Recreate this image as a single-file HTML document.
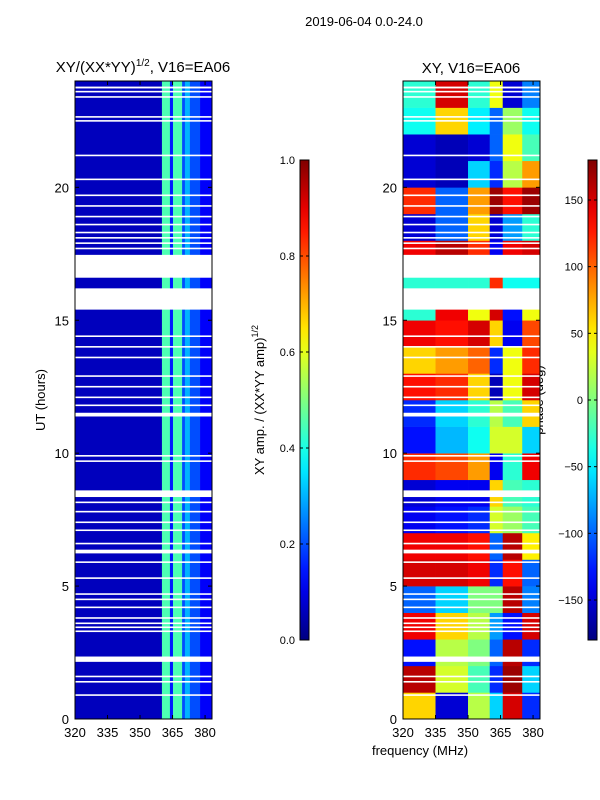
<!DOCTYPE html>
<html><head><meta charset="utf-8">
<style>
body{margin:0;background:#fff;}
svg{display:block;font-family:"Liberation Sans",sans-serif;}
</style></head>
<body>
<svg id="fig" width="600" height="800" viewBox="0 0 600 800">
<text x="364" y="26" font-size="13" text-anchor="middle">2019-06-04 0.0-24.0</text>
<text x="143" y="72" font-size="15" text-anchor="middle">XY/(XX*YY)<tspan font-size="10" dy="-6">1/2</tspan><tspan dy="6">, V16=EA06</tspan></text>
<text x="471" y="73" font-size="15" text-anchor="middle">XY, V16=EA06</text>
<text x="45" y="400" font-size="13" text-anchor="middle" transform="rotate(-90 45 400)">UT (hours)</text>
<text x="420" y="755" font-size="13" text-anchor="middle">frequency (MHz)</text>
<text x="264" y="400" font-size="13" text-anchor="middle" transform="rotate(-90 264 400)">XY amp. / (XX*YY amp)<tspan font-size="9" dy="-6">1/2</tspan></text>
<text x="543" y="400" font-size="13" text-anchor="middle" transform="rotate(-90 543 400)">phase (deg)</text>
<g id="layers"></g>
</svg>
<script>
// ---- data ----
const freqEdges = [320, 335, 350, 360, 366, 375, 383.2];
const ampEdges = [320, 360.1, 363.8, 365.2, 369.4, 370.7, 373, 377.7, 383.2];
const ampProfile = [0.06, 0.45, 0.15, 0.45, 0.2, 0.3, 0.2, 0.12];
const phaseRows = [
 [60,-150,20,-60,150,-120],
 [160,30,-20,-120,170,-60],
 [-130,20,0,-100,160,-120],
 [140,60,20,-80,-130,150],
 [-100,-60,0,0,160,-90],
 [150,150,140,-120,130,-100],
 [140,140,130,-100,160,50],
 [-140,-130,-120,30,10,-20],
 [-150,-140,-140,60,-20,-30],
 [120,110,80,-140,-30,140],
 [-130,-70,-40,30,30,-60],
 [-120,-60,-30,20,-20,60],
 [130,120,60,-160,40,150],
 [60,80,100,-120,40,120],
 [140,130,150,60,-140,110],
 [-30,140,40,150,-130,40],
 [-30,-30,-30,120,-40,-40],
 [140,160,120,-140,140,150],
 [-150,-100,60,-150,-80,-30],
 [120,-100,80,170,130,170],
 [-150,-160,-60,-120,20,80],
 [-150,-160,-150,-100,40,-20],
 [-40,60,-50,-100,10,-40],
 [-30,150,-30,40,-150,-90]
];
const gaps = [[23.72,23.79],[23.57,23.63],[23.37,23.43],[22.62,22.68],[22.47,22.53],[21.17,21.23],[20.27,20.33],[19.67,19.73],[19.27,19.33],[18.87,18.93],[18.57,18.63],[18.27,18.33],[18.07,18.13],[17.87,17.93],[17.67,17.73],[16.6,17.46],[15.4,16.2],[14.37,14.43],[13.97,14.03],[13.57,13.63],[12.87,12.93],[12.47,12.53],[12.07,12.13],[11.77,11.83],[11.38,11.52],[9.87,9.93],[9.67,9.73],[8.35,8.6],[8.12,8.18],[7.77,7.83],[7.37,7.43],[7.07,7.13],[6.57,6.63],[6.23,6.37],[5.87,5.93],[5.27,5.33],[4.67,4.73],[4.47,4.53],[4.17,4.23],[3.77,3.83],[3.57,3.63],[3.42,3.48],[3.27,3.33],[2.15,2.35],[1.57,1.63],[1.37,1.43],[0.87,0.93]];
const yTicks = [0,5,10,15,20];
const xTicks = [320,335,350,365,380];
const ampTicks = [0.0,0.2,0.4,0.6,0.8,1.0];
const phaseTicks = [-150,-100,-50,0,50,100,150];

// ---- helpers ----
const NS = 'http://www.w3.org/2000/svg';
const root = document.getElementById('layers');
function jet(v){
  v = Math.max(0, Math.min(1, v));
  const r = Math.max(0, Math.min(1, 1.5 - Math.abs(4*v - 3)));
  const g = Math.max(0, Math.min(1, 1.5 - Math.abs(4*v - 2)));
  const b = Math.max(0, Math.min(1, 1.5 - Math.abs(4*v - 1)));
  return `rgb(${Math.round(r*255)},${Math.round(g*255)},${Math.round(b*255)})`;
}
function mk(tag, attrs, parent){
  const e = document.createElementNS(NS, tag);
  for (const k in attrs) e.setAttribute(k, attrs[k]);
  (parent || root).appendChild(e);
  return e;
}
const Y0 = 719, Y1 = 81;
const yScale = h => Y0 - (h/24)*(Y0 - Y1);
function xScaleFor(x0){ return f => x0 + (f - 320) * (137/63.2); }
const panels = [{x0:75, name:'left'}, {x0:403, name:'right'}];

// left heatmap
{
  const xs = xScaleFor(75);
  const g = mk('g', {});
  
  
  for (let i = 0; i < ampProfile.length; i++){
    const r = mk('rect', {x: xs(ampEdges[i]), y: Y1, width: xs(ampEdges[i+1]) - xs(ampEdges[i]) + 0.3, height: Y0 - Y1, fill: jet(ampProfile[i])}, g);
    
    
  }
}
// right heatmap
{
  const xs = xScaleFor(403);
  const g = mk('g', {});
  
  
  for (let t = 0; t < phaseRows.length; t++){
    for (let i = 0; i < phaseRows[t].length; i++){
      const y = yScale(t + 1);
      const r = mk('rect', {x: xs(freqEdges[i]), y: y, width: xs(freqEdges[i+1]) - xs(freqEdges[i]) + 0.3, height: yScale(t) - y + 0.3, fill: jet((phaseRows[t][i] + 180)/360)}, g);
      
      
    }
  }
}
// flagged gaps + axes
panels.forEach(p => {
  const xs = xScaleFor(p.x0);
  gaps.forEach(gp => {
    const r = mk('rect', {x: p.x0, y: yScale(gp[1]), width: 137, height: Math.max(1.5, yScale(gp[0]) - yScale(gp[1])), fill: '#fff'});
    
    
  });
  const fr = mk('rect', {x: p.x0, y: Y1, width: 137, height: Y0 - Y1, fill: 'none', stroke: '#000', 'stroke-width': 1});
  
  
  yTicks.forEach(h => {
    const y = yScale(h);
    mk('line', {x1: p.x0, x2: p.x0 + 4, y1: y, y2: y, stroke: '#000'});
    mk('line', {x1: p.x0 + 137, x2: p.x0 + 133, y1: y, y2: y, stroke: '#000'});
    const t = mk('text', {x: p.x0 - 6, y: y + 5, 'font-size': 13, 'text-anchor': 'end'});
    t.textContent = h;
    
    
  });
  xTicks.forEach(f => {
    const x = xs(f);
    mk('line', {x1: x, x2: x, y1: Y0, y2: Y0 - 4, stroke: '#000'});
    mk('line', {x1: x, x2: x, y1: Y1, y2: Y1 + 4, stroke: '#000'});
    const t = mk('text', {x: x, y: Y0 + 18, 'font-size': 13, 'text-anchor': 'middle'});
    t.textContent = f;
    
    
  });
});
// colorbars
function colorbar(x, name, ticks, lo, hi, fmt){
  const id = 'grad' + name;
  const defs = mk('defs', {});
  const lg = mk('linearGradient', {id: id, x1: 0, y1: 1, x2: 0, y2: 0}, defs);
  for (let i = 0; i <= 20; i++) mk('stop', {offset: i/20, 'stop-color': jet(i/20)}, lg);
  const r = mk('rect', {x: x, y: 160, width: 9, height: 480, fill: `url(#${id})`, stroke: '#000', 'stroke-width': 1});
  
  
  ticks.forEach(v => {
    const y = 640 - (v - lo)/(hi - lo)*480;
    mk('line', {x1: x, x2: x + 3, y1: y, y2: y, stroke: '#000'});
    mk('line', {x1: x + 9, x2: x + 6, y1: y, y2: y, stroke: '#000'});
    const t = mk('text', {x: x - 5, y: y + 4, 'font-size': 11, 'text-anchor': 'end'});
    t.textContent = fmt(v);
    
    
  });
}
colorbar(300, 'amplitude', ampTicks, 0, 1, v => v.toFixed(1));
colorbar(588, 'phase', phaseTicks, -180, 180, v => v < 0 ? '\u2212' + (-v) : String(v));
</script>
</body></html>
